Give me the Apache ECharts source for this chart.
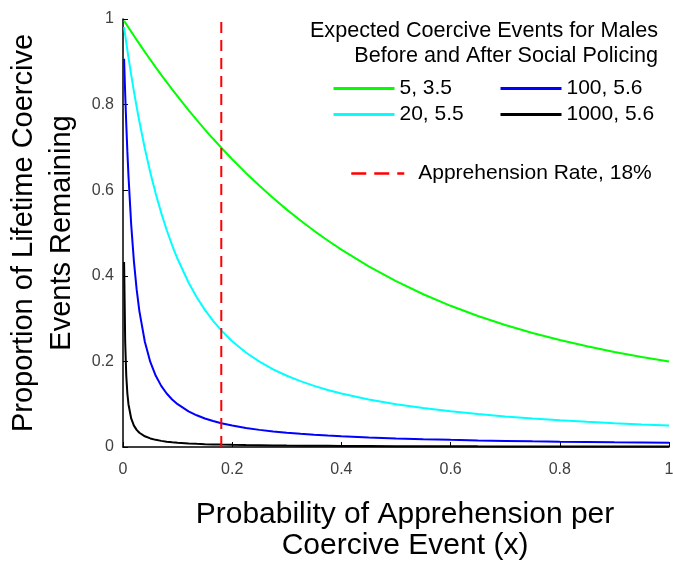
<!DOCTYPE html>
<html><head><meta charset="utf-8">
<script src="https://cdn.jsdelivr.net/npm/echarts@6/dist/echarts.min.js"></script>
<style>html,body{margin:0;padding:0;background:#fff}#c{width:673px;height:566px}</style>
</head><body><div id="c"></div>
<script>
const xValues = [0.002,0.004,0.006,0.008,0.01,0.015,0.02,0.025,0.03,0.04,0.05,0.06,0.07,0.08,0.09,0.1,0.12,0.135,0.15,0.165,0.18,0.2,0.225,0.25,0.275,0.3,0.325,0.35,0.375,0.4,0.45,0.5,0.55,0.6,0.65,0.7,0.75,0.8,0.85,0.9,0.95,1.0];
const y5 = [0.996,0.992,0.988,0.984,0.980,0.9704,0.9608,0.9512,0.9418,0.9232,0.9049,0.8870,0.8695,0.8523,0.8355,0.8190,0.7871,0.7641,0.7417,0.7201,0.6992,0.6723,0.6404,0.6102,0.5816,0.5546,0.5291,0.5051,0.4825,0.4611,0.4221,0.3875,0.3569,0.3299,0.3061,0.2850,0.2664,0.2499,0.2353,0.2222,0.2105,0.2000];
const y20 = [0.9812,0.9629,0.9450,0.9275,0.9105,0.8695,0.8310,0.7946,0.7604,0.6975,0.6415,0.5916,0.5470,0.5071,0.4713,0.4392,0.3844,0.3500,0.3204,0.2948,0.2725,0.2471,0.2209,0.1994,0.1815,0.1665,0.1538,0.1428,0.1333,0.1250,0.1111,0.1000,0.0909,0.0833,0.0769,0.0714,0.0667,0.0625,0.0588,0.0556,0.0526,0.0500];
const y100 = [0.9072,0.8254,0.7536,0.6901,0.6340,0.5196,0.4337,0.3682,0.3175,0.2458,0.1988,0.1663,0.1428,0.1250,0.1111,0.1000,0.0833,0.0741,0.0667,0.0606,0.0556,0.0500,0.0444,0.0400,0.0364,0.0333,0.0308,0.0286,0.0267,0.0250,0.0222,0.0200,0.0182,0.0167,0.0154,0.0143,0.0133,0.0125,0.0118,0.0111,0.0105,0.0100];
const y1000 = [0.4325,0.2455,0.1663,0.1250,0.1000,0.0667,0.0500,0.0400,0.0333,0.0250,0.0200,0.0167,0.0143,0.0125,0.0111,0.0100,0.0083,0.0074,0.0067,0.0061,0.0056,0.0050,0.0044,0.0040,0.0036,0.0033,0.0031,0.0029,0.0027,0.0025,0.0022,0.0020,0.0018,0.0017,0.0015,0.0014,0.0013,0.0013,0.0012,0.0011,0.0011,0.0010];
const seriesNames = ['5, 3.5','20, 5.5','100, 5.6','1000, 5.6'];
const seriesColors = ['#00ff00','#00ffff','#0000ff','#000000'];
const apprehensionRate = 0.18;
const apprehensionName = 'Apprehension Rate, 18%';
const refX = [apprehensionRate, apprehensionRate];
const refY = [0, 1];
const legendTitle = 'Expected Coercive Events for Males\nBefore and After Social Policing';
const xTitle = 'Probability of Apprehension per\nCoercive Event (x)';
const yTitle = 'Proportion of Lifetime Coercive\nEvents Remaining';

const ys = [y5, y20, y100, y1000];
const font = 'Liberation Sans, Arial, sans-serif';
const chart = echarts.init(document.getElementById('c'), null, {renderer:'canvas'});
const series = ys.map((arr, i) => ({
  name: seriesNames[i], type: 'line', symbol: 'none',
  data: xValues.map((x, j) => [x, arr[j]]),
  lineStyle: {color: seriesColors[i], width: 2}, itemStyle: {color: seriesColors[i]}, z: 2
}));
series.push({
  name: apprehensionName, type: 'line', symbol: 'none',
  data: refX.map((x, j) => [x, refY[j]]),
  lineStyle: {color: '#ff0000', width: 2, type: [11, 7]}, itemStyle: {color: '#ff0000'}, z: 3
});
const legendText = {fontFamily: font, fontSize: 21, color: '#000'};
chart.setOption({
  animation: false,
  grid: {left: 123, right: 4, top: 19, bottom: 119, containLabel: false, outerBoundsMode: 'none'},
  xAxis: {
    type: 'value', min: 0, max: 1, interval: 0.2,
    name: xTitle, nameLocation: 'middle', nameGap: 52,
    nameTextStyle: {fontFamily: font, fontSize: 30, color: '#000', lineHeight: 31, padding: [0,0,0,18]},
    axisLine: {show: true, lineStyle: {color: '#000', width: 1.5}},
    axisTick: {show: true, inside: true, length: 5, lineStyle: {color: '#000'}},
    axisLabel: {fontFamily: font, fontSize: 16, color: '#404040', margin: 15},
    splitLine: {show: false}
  },
  yAxis: {
    type: 'value', min: 0, max: 1, interval: 0.2,
    name: yTitle, nameLocation: 'middle', nameGap: 41, nameRotate: 90,
    nameTextStyle: {fontFamily: font, fontSize: 29, color: '#000', lineHeight: 38},
    axisLine: {show: true, lineStyle: {color: '#000', width: 1.5}},
    axisTick: {show: true, inside: true, length: 5, lineStyle: {color: '#000'}},
    axisLabel: {fontFamily: font, fontSize: 16, color: '#404040', margin: 9},
    splitLine: {show: false}
  },
  legend: [
    {data: [seriesNames[0], seriesNames[1]], orient: 'vertical', left: 332, top: 78, padding: 0,
     itemWidth: 61, itemHeight: 14, itemGap: 5, selectedMode: false, textStyle: legendText,
     itemStyle: {opacity: 0}, lineStyle: {width: 3}},
    {data: [seriesNames[2], seriesNames[3]], orient: 'vertical', left: 499, top: 78, padding: 0,
     itemWidth: 61, itemHeight: 14, itemGap: 5, selectedMode: false, textStyle: legendText,
     itemStyle: {opacity: 0}, lineStyle: {width: 3}},
    {data: [apprehensionName], orient: 'vertical', left: 350, top: 163, padding: 0,
     itemWidth: 53, itemHeight: 14, selectedMode: false,
     textStyle: Object.assign({}, legendText, {padding: [0,0,0,9]}),
     itemStyle: {opacity: 0}, lineStyle: {width: 2.5, type: [15, 8]}}
  ],
  graphic: [{
    type: 'text', right: 15, top: 18,
    style: {text: legendTitle, font: '21.6px ' + font, fill: '#000', textAlign: 'right', lineHeight: 25.5}
  }],
  series: series
});
</script></body></html>
